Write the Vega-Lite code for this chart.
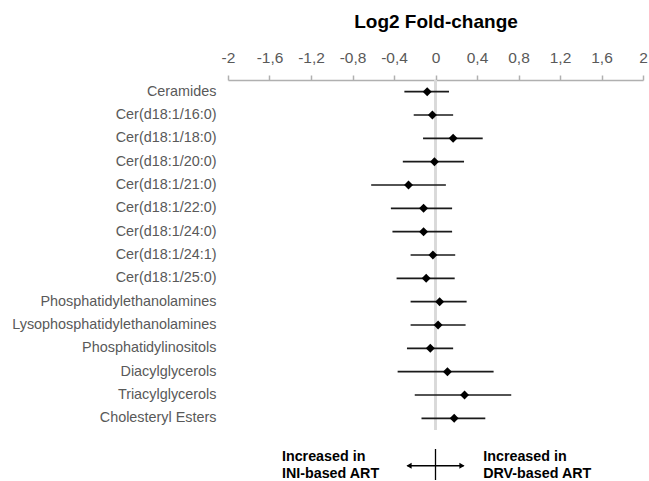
{
  "$schema": "https://vega.github.io/schema/vega-lite/v6.json",
  "padding": {"left": 11, "top": 12, "right": 0, "bottom": 0},
  "spacing": 17,
  "background": "white",
  "config": {
    "view": {"stroke": null},
    "font": "Liberation Sans",
    "concat": {"spacing": 17}
  },
  "datasets": {
    "lipids": [
      {"lipid": "Ceramides", "est": -0.08, "lo": -0.30, "hi": 0.13},
      {"lipid": "Cer(d18:1/16:0)", "est": -0.03, "lo": -0.21, "hi": 0.17},
      {"lipid": "Cer(d18:1/18:0)", "est": 0.17, "lo": -0.12, "hi": 0.455},
      {"lipid": "Cer(d18:1/20:0)", "est": -0.01, "lo": -0.315, "hi": 0.275},
      {"lipid": "Cer(d18:1/21:0)", "est": -0.26, "lo": -0.62, "hi": 0.10},
      {"lipid": "Cer(d18:1/22:0)", "est": -0.115, "lo": -0.43, "hi": 0.16},
      {"lipid": "Cer(d18:1/24:0)", "est": -0.115, "lo": -0.415, "hi": 0.16},
      {"lipid": "Cer(d18:1/24:1)", "est": -0.025, "lo": -0.24, "hi": 0.19},
      {"lipid": "Cer(d18:1/25:0)", "est": -0.09, "lo": -0.375, "hi": 0.185},
      {"lipid": "Phosphatidylethanolamines", "est": 0.04, "lo": -0.24, "hi": 0.30},
      {"lipid": "Lysophosphatidylethanolamines", "est": 0.025, "lo": -0.24, "hi": 0.29},
      {"lipid": "Phosphatidylinositols", "est": -0.05, "lo": -0.275, "hi": 0.17},
      {"lipid": "Diacylglycerols", "est": 0.115, "lo": -0.365, "hi": 0.56},
      {"lipid": "Triacylglycerols", "est": 0.28, "lo": -0.20, "hi": 0.73},
      {"lipid": "Cholesteryl Esters", "est": 0.18, "lo": -0.135, "hi": 0.48}
    ],
    "notes": [
      {"label": "Increased in", "x": -1.48, "y": 0.73},
      {"label": "INI-based ART", "x": -1.48, "y": 0.2},
      {"label": "Increased in", "x": 0.46, "y": 0.73},
      {"label": "DRV-based ART", "x": 0.46, "y": 0.2}
    ],
    "arrowheads": [
      {"x": -0.255, "shape": "triangle-left"},
      {"x": 0.255, "shape": "triangle-right"}
    ]
  },
  "vconcat": [
    {
      "width": 415,
      "height": 350,
      "data": {"name": "lipids"},
      "encoding": {
        "y": {
          "field": "lipid",
          "type": "nominal",
          "sort": null,
          "scale": {"paddingInner": 0, "paddingOuter": 0},
          "axis": {
            "title": null,
            "ticks": false,
            "domain": false,
            "labelPadding": 12,
            "labelFontSize": 14.4,
            "labelColor": "#595959",
            "labelLimit": 400
          }
        }
      },
      "layer": [
        {
          "mark": {"type": "rule", "color": "#d9d9d9", "strokeWidth": 2},
          "encoding": {"x": {"datum": 0, "type": "quantitative"}, "y": null}
        },
        {
          "mark": {"type": "rule", "color": "#1a1a1a", "strokeWidth": 1.6},
          "encoding": {
            "x": {
              "field": "lo",
              "type": "quantitative",
              "scale": {"domain": [-2, 2], "nice": false, "zero": false},
              "axis": {
                "orient": "top",
                "title": "Log2 Fold-change",
                "titleFontSize": 19,
                "titleFontWeight": "bold",
                "titleColor": "black",
                "titlePadding": 19,
                "values": [-2, -1.6, -1.2, -0.8, -0.4, 0, 0.4, 0.8, 1.2, 1.6, 2],
                "labelExpr": "replace(toString(datum.value), '.', ',')",
                "labelFontSize": 15.5,
                "labelColor": "#595959",
                "labelPadding": 10,
                "labelFlush": false,
                "grid": false,
                "domainColor": "#b0b0b0",
                "domainWidth": 1.5,
                "tickColor": "#b0b0b0",
                "tickWidth": 1.5,
                "tickSize": 5
              }
            },
            "x2": {"field": "hi"}
          }
        },
        {
          "mark": {"type": "point", "shape": "diamond", "filled": true, "color": "black", "size": 80, "opacity": 1},
          "encoding": {"x": {"field": "est", "type": "quantitative"}}
        }
      ]
    },
    {
      "width": 415,
      "height": 31,
      "layer": [
        {
          "data": {"values": [{}]},
          "mark": {"type": "rule", "color": "black", "strokeWidth": 1.3},
          "encoding": {
            "x": {"datum": 0, "type": "quantitative", "scale": {"domain": [-2, 2], "nice": false}, "axis": null},
            "y": {"datum": 0, "type": "quantitative", "scale": {"domain": [0, 1], "nice": false}, "axis": null},
            "y2": {"datum": 1}
          }
        },
        {
          "data": {"values": [{}]},
          "mark": {"type": "rule", "color": "black", "strokeWidth": 1.3},
          "encoding": {
            "x": {"datum": -0.27, "type": "quantitative"},
            "x2": {"datum": 0.27},
            "y": {"datum": 0.46, "type": "quantitative"}
          }
        },
        {
          "data": {"name": "arrowheads"},
          "mark": {"type": "point", "filled": true, "color": "black", "size": 36, "opacity": 1},
          "encoding": {
            "x": {"field": "x", "type": "quantitative"},
            "y": {"datum": 0.46, "type": "quantitative"},
            "shape": {"field": "shape", "type": "nominal", "scale": null, "legend": null}
          }
        },
        {
          "data": {"name": "notes"},
          "mark": {"type": "text", "align": "left", "baseline": "middle", "fontSize": 14.3, "fontWeight": "bold", "color": "black"},
          "encoding": {
            "x": {"field": "x", "type": "quantitative"},
            "y": {"field": "y", "type": "quantitative"},
            "text": {"field": "label"}
          }
        }
      ]
    }
  ]
}
